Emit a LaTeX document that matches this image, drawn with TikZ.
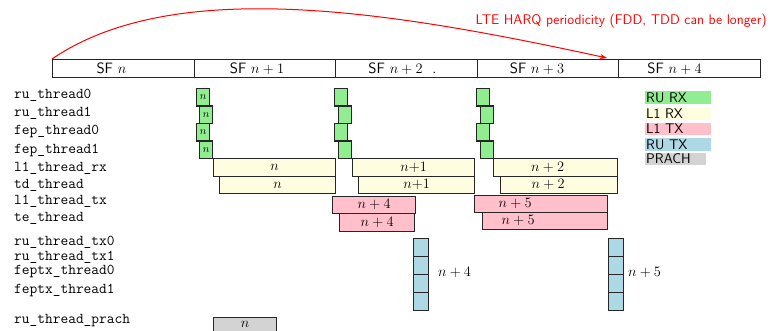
\documentclass[tikz,border=0pt]{standalone}
\usetikzlibrary{arrows.meta}
\definecolor{ggreen}{HTML}{90EE90}
\definecolor{yyellow}{HTML}{FFFDE0}
\definecolor{lyellow}{HTML}{FFFFE0}
\definecolor{ppink}{HTML}{FFC0CB}
\definecolor{bblue}{HTML}{ADD8E6}
\definecolor{ggray}{HTML}{D3D3D3}
\begin{document}
\begin{tikzpicture}[x=1pt,y=-1pt,
  sfbox/.style={draw=black!85, line width=1.4pt, anchor=north west, inner sep=0pt,
    minimum width=141.5pt, minimum height=18pt, font=\fontsize{15}{15}\sffamily},
  box/.style={draw=black!85, line width=1.3pt, anchor=north west, inner sep=0pt,
    font=\fontsize{14}{14}\selectfont},
  gbox/.style={box, fill=ggreen, minimum width=13pt, minimum height=17.5pt, font=\fontsize{11}{11}\selectfont},
  ybox/.style={box, fill=yyellow, minimum height=17.5pt},
  pbox/.style={box, fill=ppink, minimum height=17.5pt},
  bbox/.style={box, fill=bblue, minimum width=15pt, minimum height=18pt},
  grbox/.style={box, fill=ggray, minimum height=14pt},
  tlab/.style={anchor=west, inner sep=0pt, font=\fontsize{15}{15}\ttfamily},
  leg/.style={anchor=north west, inner xsep=1pt, inner ysep=0pt, minimum height=12.5pt,
    align=left, font=\fontsize{14}{14}\sffamily},
  vlab/.style={anchor=west, inner sep=0pt, font=\fontsize{14}{14}\selectfont}
]
\useasboundingbox (0,0) rectangle (770,331);

% subframes
\node[sfbox] (sf0) at (52,59) {\hspace*{-24pt}\raisebox{2pt}{SF $n$}};
\node[sfbox] (sf1) at (193.5,59) {\hspace*{-16pt}\raisebox{2pt}{SF $n+1$}};
\node[sfbox] (sf2) at (335,59) {\hspace*{-8pt}\raisebox{2pt}{SF $n+2$\ \ .}};
\node[sfbox] (sf3) at (476.5,59) {\hspace*{-22pt}\raisebox{2pt}{SF $n+3$}};
\node[sfbox] (sf4) at (618,59) {\hspace*{-30pt}\raisebox{2pt}{SF $n+4$}};

% HARQ arc
\coordinate (harqend) at (607,58);
\draw[red, line width=1pt, -{Stealth[length=7pt,width=5pt]}] (sf0.north west) .. controls (175,-25) and (395,12) .. (harqend);
\node[anchor=east, inner sep=0pt, text=red, font=\fontsize{14}{14}\sffamily] (harq) at (767,21) {LTE HARQ periodicity (FDD, TDD can be longer)};

% thread labels
\node[tlab] (t1) at (14,95) {ru\_thread0};
\node[tlab] (t2) at (14,113) {ru\_thread1};
\node[tlab] (t3) at (14,131.5) {fep\_thread0};
\node[tlab] (t4) at (14,150) {fep\_thread1};
\node[tlab] (t5) at (14,168) {l1\_thread\_rx};
\node[tlab] (t6) at (14,185) {td\_thread};
\node[tlab] (t7) at (14,201) {l1\_thread\_tx};
\node[tlab] (t8) at (14,218.5) {te\_thread};
\node[tlab] (t9) at (14,242) {ru\_thread\_tx0};
\node[tlab] (t10) at (14,257) {ru\_thread\_tx1};
\node[tlab] (t11) at (14,271) {feptx\_thread0};
\node[tlab] (t12) at (14,290) {feptx\_thread1};
\node[tlab] (t13) at (14,321) {ru\_thread\_prach};

% RU RX / FEP (green)
\node[gbox] (ga1) at (196,88) {$n$};
\node[gbox] (ga2) at (199,105.5) {$n$};
\node[gbox] (ga3) at (196,123) {$n$};
\node[gbox] (ga4) at (199,140.5) {$n$};
\node[gbox] (gb1) at (334,88) {};
\node[gbox] (gb2) at (338,105.5) {};
\node[gbox] (gb3) at (334,123) {};
\node[gbox] (gb4) at (338,140.5) {};
\node[gbox] (gc1) at (476,88) {};
\node[gbox] (gc2) at (480,105.5) {};
\node[gbox] (gc3) at (476,123) {};
\node[gbox] (gc4) at (480,140.5) {};

% L1 RX (yellow)
\node[ybox, minimum width=122pt] (ya1) at (213,158) {$n$};
\node[ybox, minimum width=116pt] (ya2) at (219,175.5) {$n$};
\node[ybox, minimum width=122pt] (yb1) at (352,158) {$n{+}1$};
\node[ybox, minimum width=116pt] (yb2) at (358,175.5) {$n{+}1$};
\node[ybox, minimum width=124pt] (yc1) at (493,158) {\hspace*{-16pt}$n+2$};
\node[ybox, minimum width=117pt] (yc2) at (500,175.5) {\hspace*{-22pt}$n+2$};

% L1 TX (pink)
\node[pbox, minimum width=83pt] (pa1) at (332,195.5) {$n+4$};
\node[pbox, minimum width=75pt] (pa2) at (339,213) {$n+4$};
\node[pbox, minimum width=133pt] (pb1) at (474,194.5) {\hspace*{-52pt}$n+5$};
\node[pbox, minimum width=125pt] (pb2) at (482,211.5) {\hspace*{-54pt}$n+5$};

% RU TX (blue)
\node[bbox] (ba1) at (413,238) {};
\node[bbox] (ba2) at (413,256) {};
\node[bbox] (ba3) at (413,274) {};
\node[bbox] (ba4) at (413,292) {};
\node[vlab] (bla) at (438,272) {$n+4$};
\node[bbox] (bb1) at (608,238) {};
\node[bbox] (bb2) at (608,256) {};
\node[bbox] (bb3) at (608,274) {};
\node[bbox] (bb4) at (608,292) {};
\node[vlab] (blb) at (628,272) {$n+5$};

% PRACH (gray)
\node[grbox, minimum width=63pt] (gr1) at (213,317) {$n$};

% legend
\node[leg, fill=ggreen, text width=64pt] (lg1) at (645,91) {RU RX};
\node[leg, fill=lyellow, text width=64pt] (lg2) at (645,107.5) {L1 RX};
\node[leg, fill=ppink, text width=64pt] (lg3) at (645,122.5) {L1 TX};
\node[leg, fill=bblue, text width=64pt] (lg4) at (645,138) {RU TX};
\node[leg, fill=ggray, text width=59pt] (lg5) at (645,152.5) {PRACH};
\end{tikzpicture}
\end{document}
